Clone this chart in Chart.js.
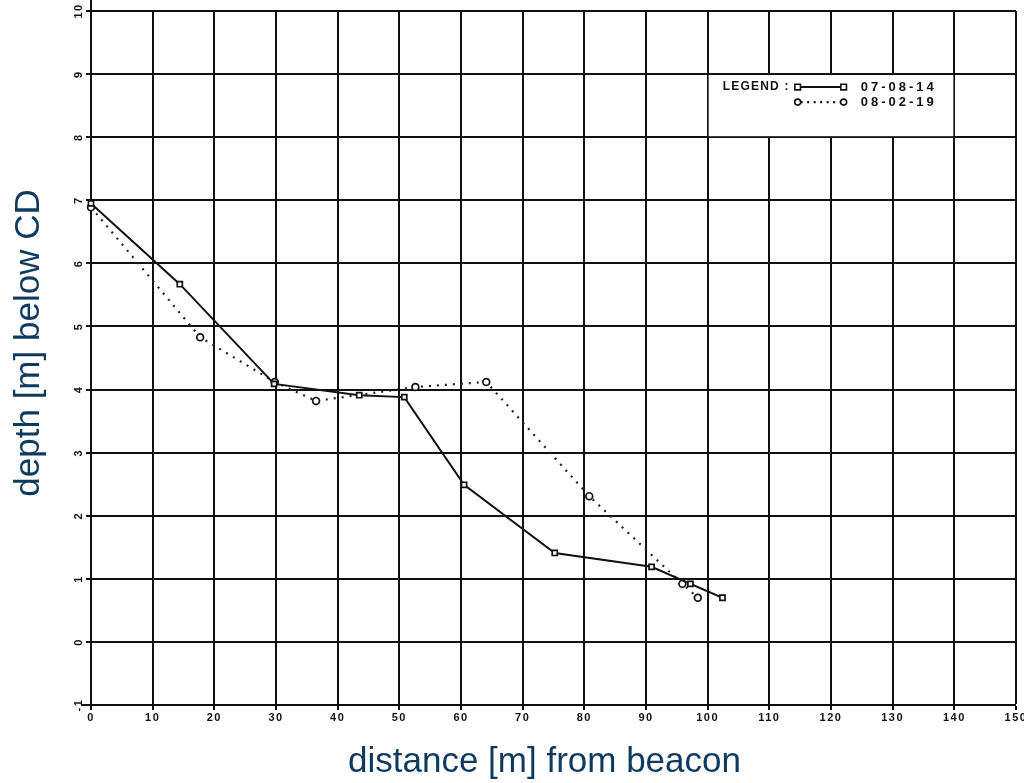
<!DOCTYPE html>
<html>
<head>
<meta charset="utf-8">
<script src="https://cdn.jsdelivr.net/npm/chart.js@4"></script>
<style>
  html, body { margin: 0; padding: 0; background: #ffffff; }
  #wrap { width: 1024px; height: 783px; }
</style>
</head>
<body>
<div id="wrap"><canvas id="c" width="1024" height="783" style="width:1024px;height:783px"></canvas></div>
<script>
// ---- data ----
const seriesLabels = ['07-08-14', '08-02-19'];
const distA  = [0, 14.4, 29.7, 43.5, 50.8, 60.5, 75.2, 90.9, 97.2, 102.4];
const depthA = [6.95, 5.67, 4.09, 3.91, 3.88, 2.49, 1.41, 1.19, 0.92, 0.70];
const distB  = [0, 17.7, 29.8, 36.5, 52.6, 64.1, 80.8, 95.9, 98.4];
const depthB = [6.89, 4.83, 4.12, 3.82, 4.04, 4.12, 2.31, 0.92, 0.70];
const xTitle = 'distance [m] from beacon';
const yTitle = 'depth [m] below CD';
const legendHeading = 'LEGEND :';

const toPts = (xs, ys) => xs.map((x, i) => ({ x: x, y: ys[i] }));

const titleColor = '#0f3a5f';
const tickFont = { family: "'Liberation Sans', Arial, sans-serif", size: 11, weight: 'bold' };

// spaced plotter-style tick labels + small title placement nudges
const axisStylePlugin = {
  id: 'axisStyle',
  afterLayout(chart) {
    const xs = chart.scales.x, ys = chart.scales.y;
    // nudge title centres (does not affect value->pixel mapping)
    xs.left -= 9; xs.right -= 9;
    ys.top -= 15; ys.bottom -= 15;
    [xs, ys].forEach(s => {
      if (s._spacedLabels) return;
      s._spacedLabels = true;
      const orig = s.drawLabels;
      s.drawLabels = function (area) {
        const ctx = this.ctx;
        ctx.save();
        if ('letterSpacing' in ctx) ctx.letterSpacing = '1.5px';
        orig.call(this, area);
        ctx.restore();
      };
    });
  }
};

const legendPlugin = {
  id: 'insideLegend',
  afterDraw(chart) {
    const ctx = chart.ctx;
    const xs = chart.scales.x, ys = chart.scales.y;
    const x0 = xs.getPixelForValue(100), x1 = xs.getPixelForValue(140);
    const y0 = ys.getPixelForValue(9), y1 = ys.getPixelForValue(8);
    ctx.save();
    ctx.fillStyle = '#ffffff';
    ctx.fillRect(x0 + 1, y0 + 1, x1 - x0 - 2, y1 - y0 - 2);
    ctx.fillStyle = '#111';
    ctx.textBaseline = 'middle';
    ctx.textAlign = 'left';
    ctx.font = "bold 12px 'Liberation Sans', Arial, sans-serif";
    if ('letterSpacing' in ctx) ctx.letterSpacing = '1.2px';
    ctx.fillText(legendHeading, x0 + 15, y0 + 13);
    const rows = [y0 + 13, y0 + 28];
    const sx0 = x0 + 90, sx1 = x0 + 136;
    chart.data.datasets.forEach((ds, i) => {
      const yy = rows[i];
      ctx.strokeStyle = '#111';
      ctx.lineWidth = ds.borderWidth;
      ctx.setLineDash(ds.borderDash ? [2, 4.5] : []);
      ctx.beginPath(); ctx.moveTo(sx0 + 3, yy); ctx.lineTo(sx1 - 3, yy); ctx.stroke();
      ctx.setLineDash([]);
      ctx.lineWidth = 1.6;
      ctx.fillStyle = '#fff';
      [sx0, sx1].forEach(px => {
        ctx.beginPath();
        if (ds.pointStyle === 'rect') ctx.rect(px - 2.8, yy - 2.8, 5.6, 5.6);
        else ctx.arc(px, yy, 3, 0, Math.PI * 2);
        ctx.fill(); ctx.stroke();
      });
      ctx.fillStyle = '#111';
      ctx.font = "bold 13px 'Liberation Sans', Arial, sans-serif";
      if ('letterSpacing' in ctx) ctx.letterSpacing = '3px';
      ctx.fillText(ds.label, x0 + 153, yy);
    });
    ctx.restore();
  }
};

new Chart(document.getElementById('c'), {
  type: 'line',
  data: {
    datasets: [
      {
        label: seriesLabels[0],
        data: toPts(distA, depthA),
        borderColor: '#111',
        borderWidth: 2,
        pointStyle: 'rect',
        pointRadius: 3.6,
        pointBackgroundColor: '#fff',
        pointBorderColor: '#111',
        pointBorderWidth: 1.7,
        tension: 0
      },
      {
        label: seriesLabels[1],
        data: toPts(distB, depthB),
        borderColor: '#222',
        borderWidth: 2.2,
        borderDash: [2, 6],
        pointStyle: 'circle',
        pointRadius: 3.4,
        pointBackgroundColor: '#fff',
        pointBorderColor: '#111',
        pointBorderWidth: 1.7,
        tension: 0
      }
    ]
  },
  options: {
    responsive: false,
    animation: false,
    layout: { padding: { top: 11, right: 8, left: 0, bottom: 0 } },
    plugins: { legend: { display: false }, tooltip: { enabled: false } },
    scales: {
      x: {
        type: 'linear',
        min: 0, max: 150,
        ticks: { stepSize: 10, color: '#111', font: tickFont, padding: 1, maxRotation: 0 },
        grid: { color: '#111', lineWidth: 2, tickLength: 5, drawOnChartArea: true },
        border: { display: true, color: '#111', width: 2 },
        title: { display: true, text: xTitle, color: titleColor,
                 font: { family: "'Liberation Sans', Arial, sans-serif", size: 35 },
                 padding: { top: 0, bottom: 0 } },
        afterFit(s) { s.height = 78; s.paddingLeft = 0; s.paddingRight = 0; }
      },
      y: {
        type: 'linear',
        min: -1, max: 10,
        ticks: { stepSize: 1, color: '#111', font: tickFont, padding: 1,
                 minRotation: 90, maxRotation: 90, crossAlign: 'center' },
        grid: { color: '#111', lineWidth: 2, tickLength: 5, drawOnChartArea: true },
        border: { display: true, color: '#111', width: 2 },
        title: { display: true, text: yTitle, color: titleColor,
                 font: { family: "'Liberation Sans', Arial, sans-serif", size: 35 },
                 padding: { top: 8, bottom: 0 } },
        afterFit(s) { s.width = 91; s.paddingTop = 0; s.paddingBottom = 0; }
      }
    }
  },
  plugins: [axisStylePlugin, legendPlugin]
});
</script>
</body>
</html>
